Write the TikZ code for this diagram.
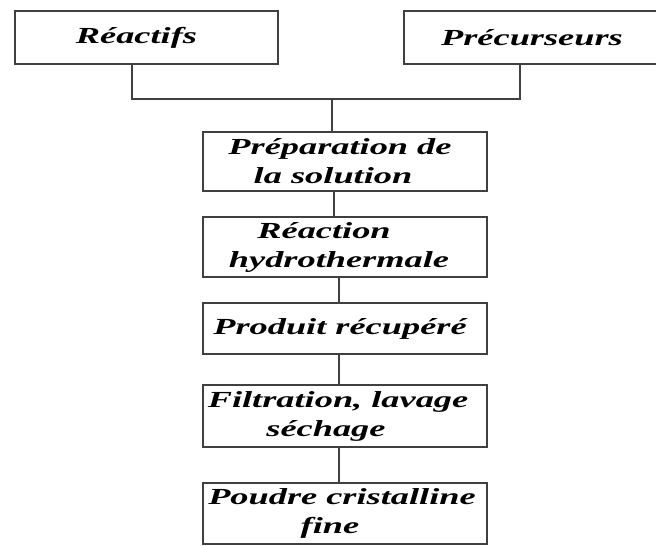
\documentclass[tikz,border=0pt]{standalone}
\usepackage{fontspec}
\setmainfont{Liberation Serif}[FakeStretch=1.58]

\tikzset{
  etape/.style={draw=black!75, line width=0.6pt, inner sep=0pt, align=center,
    font=\bfseries\itshape\fontsize{11.5}{14.5}\selectfont},
  lien/.style={draw=black!75, line width=0.6pt}
}
% trailing space, pushes a line to the left
\newcommand{\decal}[1]{\hspace*{#1pt}}

\begin{document}
\begin{tikzpicture}[x=0.5pt,y=-0.5pt]
\useasboundingbox (0,0) rectangle (656,545);

% starting boxes
\node[etape, minimum width=131.5pt, minimum height=26.5pt] (reac) at (146.5,37.5) {Réactifs\decal{10}};
\node[etape, minimum width=128pt, minimum height=26.5pt] (prec) at (532,37.5) {Précurseurs};

% process steps
\node[etape, minimum width=142pt, minimum height=29.5pt] (prep) at (345,161.5) {Préparation de\decal{5}\\la solution\decal{12}};
\node[etape, minimum width=142pt, minimum height=30pt] (hydro) at (345,247) {Réaction\decal{21}\\hydrothermale\decal{6}};
\node[etape, minimum width=142pt, minimum height=25.5pt] (prod) at (345,328.5) {Produit récupéré\decal{5}};
\node[etape, minimum width=142pt, minimum height=31pt] (filt) at (345,416) {Filtration, lavage\decal{7}\\séchage\decal{19}};
\node[etape, minimum width=142pt, minimum height=30.5pt] (poud) at (345,513.5) {Poudre cristalline\decal{3}\\fine\decal{15}};

% join of the two inputs
\coordinate (jonction) at (332,99);
\draw[lien] ([xshift=-7.25pt]reac.south) |- (jonction) -| ([xshift=-6pt]prec.south);
\draw[lien] (jonction) -- (jonction |- prep.north);

% links between steps
\foreach \a/\b/\d in {prep/hydro/-5.5pt,hydro/prod/-3pt,prod/filt/-3pt,filt/poud/-3pt}
\draw[lien] ([xshift=\d]\a.south) -- ([xshift=\d]\b.north);

\end{tikzpicture}
\end{document}
